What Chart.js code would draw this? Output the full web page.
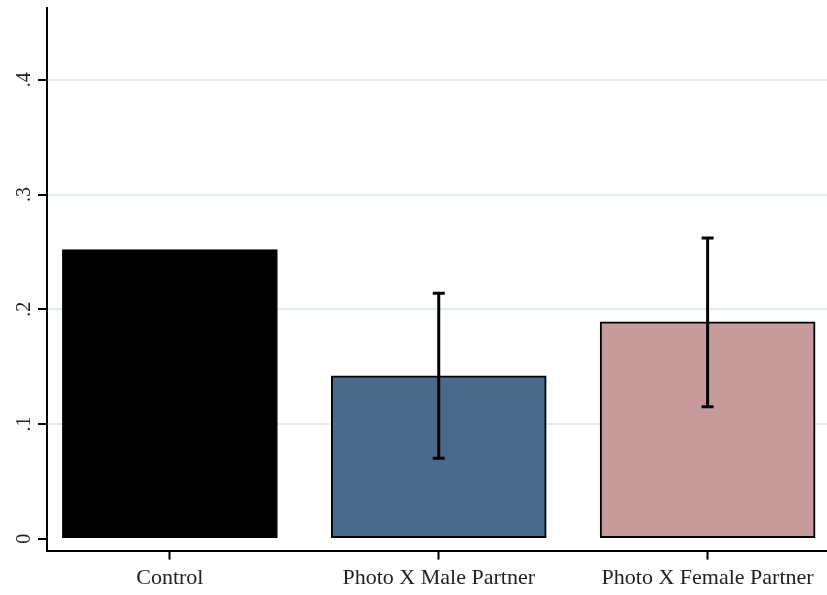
<!DOCTYPE html>
<html>
<head>
<meta charset="utf-8">
<script src="https://cdn.jsdelivr.net/npm/chart.js@4/dist/chart.umd.min.js"></script>
<style>
html,body{margin:0;padding:0;background:#fff;}
#wrap{width:827px;height:595px;}
</style>
</head>
<body>
<div id="wrap"><canvas id="c" width="827" height="595"></canvas></div>
<script>
const categories = ["Control", "Photo X Male Partner", "Photo X Female Partner"];
const means = [0.252, 0.142, 0.189];
const ciLower = [null, 0.070, 0.115];
const ciUpper = [null, 0.214, 0.262];
const barColors = ["#000000", "#4a6a8b", "#c79a9c"];
const yTickValues = [0, 0.1, 0.2, 0.3, 0.4];
const yTickLabels = ["0", ".1", ".2", ".3", ".4"];

const serif = "'Liberation Serif', 'Times New Roman', serif";

const errorBars = {
  id: 'errorBars',
  afterDatasetsDraw(chart) {
    const ctx = chart.ctx, xs = chart.scales.x, ys = chart.scales.y;
    ctx.save();
    ctx.strokeStyle = '#000';
    ctx.lineWidth = 3;
    ctx.lineCap = 'butt';
    categories.forEach((c, i) => {
      if (ciLower[i] == null) return;
      const x = xs.getPixelForValue(i);
      const yl = ys.getPixelForValue(ciLower[i]);
      const yu = ys.getPixelForValue(ciUpper[i]);
      ctx.beginPath();
      ctx.moveTo(x, yl); ctx.lineTo(x, yu);
      ctx.moveTo(x - 6, yl); ctx.lineTo(x + 6, yl);
      ctx.moveTo(x - 6, yu); ctx.lineTo(x + 6, yu);
      ctx.stroke();
    });
    ctx.restore();
  }
};

const yLabels = {
  id: 'yLabels',
  afterDraw(chart) {
    const ctx = chart.ctx, ys = chart.scales.y;
    ctx.save();
    ctx.fillStyle = '#222';
    ctx.font = "20px " + serif;
    ctx.textAlign = 'center';
    ctx.textBaseline = 'middle';
    yTickValues.forEach((v, i) => {
      const y = ys.getPixelForValue(v);
      ctx.save();
      ctx.translate(25, y);
      ctx.rotate(-Math.PI / 2);
      ctx.fillText(yTickLabels[i], 0, 0);
      ctx.restore();
    });
    ctx.restore();
  }
};

new Chart(document.getElementById('c'), {
  type: 'bar',
  data: {
    datasets: [{
      data: categories.map((c, i) => ({ x: i, y: means[i] })),
      backgroundColor: barColors,
      borderColor: '#000',
      borderWidth: 2,
      borderSkipped: false,
      barThickness: 215
    }]
  },
  options: {
    responsive: false,
    animation: false,
    devicePixelRatio: 1,
    layout: { padding: { left: 38, top: 8, right: 0, bottom: -1 } },
    plugins: { legend: { display: false }, tooltip: { enabled: false } },
    scales: {
      x: {
        type: 'linear',
        offset: false,
        min: -0.457,
        max: 2.444,
        afterBuildTicks: (s) => { s.ticks = categories.map((c, i) => ({ value: i })); },
        grid: { offset: false, drawOnChartArea: false, tickLength: 9, tickColor: '#000', tickWidth: 2 },
        border: { display: true, color: '#000', width: 2 },
        ticks: {
          autoSkip: false,
          maxRotation: 0,
          minRotation: 0,
          padding: 5,
          color: '#222',
          font: { family: serif, size: 22 },
          callback: (v) => categories[v] ?? ''
        }
      },
      y: {
        type: 'linear',
        min: -0.0104,
        max: 0.4626,
        afterBuildTicks: (s) => { s.ticks = yTickValues.map(v => ({ value: v })); },
        grid: {
          color: (ctx) => (ctx.tick && ctx.tick.value === 0) ? 'rgba(0,0,0,0)' : '#e3ecec',
          lineWidth: 2,
          tickLength: 9,
          tickColor: '#000',
          tickWidth: 2
        },
        border: { display: true, color: '#000', width: 2 },
        ticks: { display: false }
      }
    }
  },
  plugins: [errorBars, yLabels]
});
</script>
</body>
</html>
